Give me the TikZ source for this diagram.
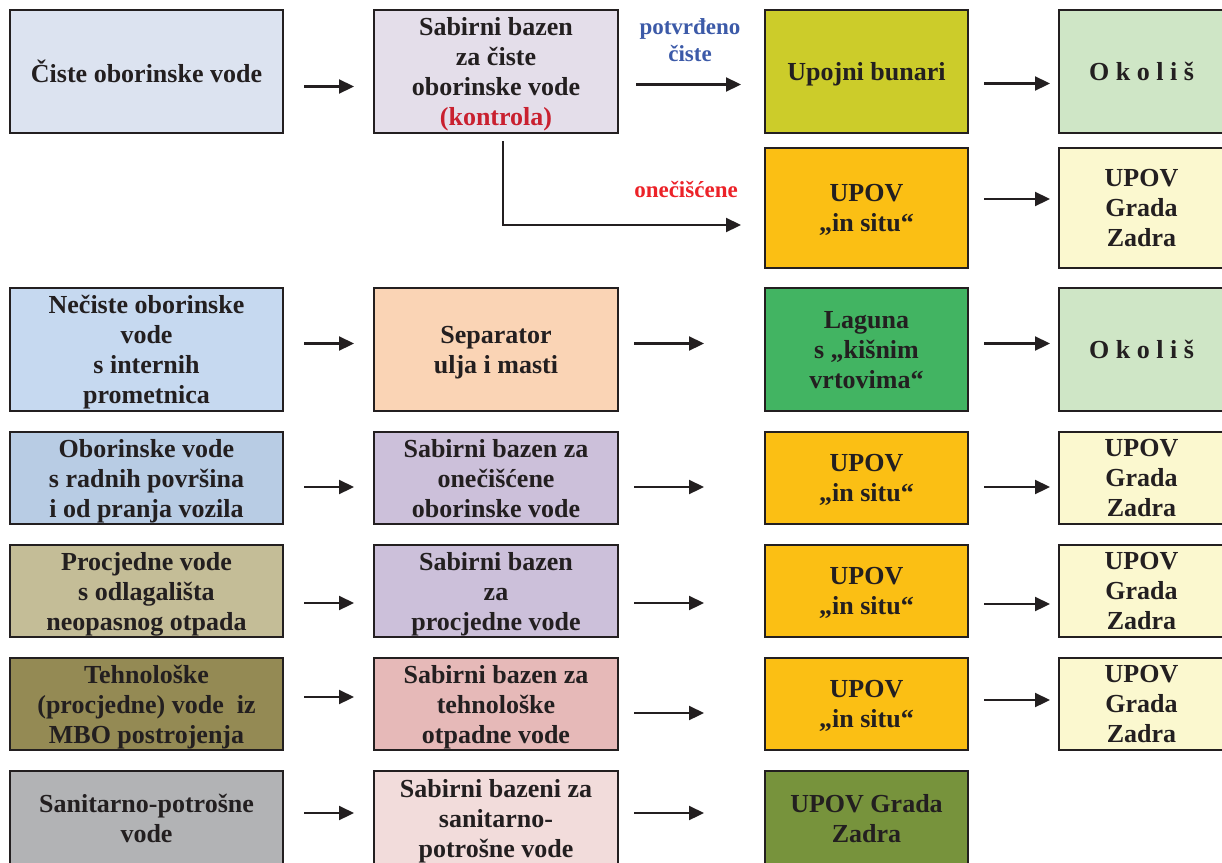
\documentclass[tikz,border=0pt]{standalone}
\usepackage{fontspec}
\setmainfont{Liberation Serif}
\usetikzlibrary{arrows.meta}
\definecolor{boxline}{HTML}{231F20}
\definecolor{cistebg}{HTML}{DCE3F0}
\definecolor{bazencistbg}{HTML}{E4DEEA}
\definecolor{bunaribg}{HTML}{CCCC2A}
\definecolor{okolisbg}{HTML}{CFE6C6}
\definecolor{upovbg}{HTML}{FBBF14}
\definecolor{zadrabg}{HTML}{FBF8CF}
\definecolor{necistbg}{HTML}{C6D9F0}
\definecolor{separatorbg}{HTML}{FAD4B5}
\definecolor{lagunabg}{HTML}{42B462}
\definecolor{radnebg}{HTML}{B8CCE4}
\definecolor{bazenlilabg}{HTML}{CCC0DA}
\definecolor{procjbg}{HTML}{C4BD97}
\definecolor{tehnobg}{HTML}{948A54}
\definecolor{bazentehnobg}{HTML}{E6B9B8}
\definecolor{sanitbg}{HTML}{B2B3B5}
\definecolor{bazensanbg}{HTML}{F2DCDB}
\definecolor{upovzadrabg}{HTML}{77933C}
\definecolor{lblblue}{HTML}{3C5AA8}
\definecolor{lblred}{HTML}{EC2228}
\definecolor{kontrolared}{HTML}{C9202F}

\begin{document}
\begin{tikzpicture}[x=1pt,y=-1pt,line width=0.4pt,
    box/.style={draw=boxline,line width=2pt,inner sep=0pt,align=center,text=boxline,
      text depth=0pt,font=\bfseries\fontsize{26}{30}\selectfont},
    colA/.style={box,minimum width=273pt},
    colB/.style={box,minimum width=244pt},
    colC/.style={box,minimum width=203pt},
    colD/.style={box,minimum width=165pt},
    tall/.style={minimum height=123pt},
    low/.style={minimum height=92pt},
    lbl/.style={inner sep=0pt,align=center,font=\bfseries\fontsize{23}{27}\selectfont},
    arr/.style={-{Triangle[length=15pt,width=14pt]},line width=2.2pt,draw=boxline},
    gapAB/.style={shorten <=20pt,shorten >=19pt},
    gapBC/.style={shorten <=15pt,shorten >=60pt},
    gapCD/.style={shorten <=15pt,shorten >=8pt}]
  \useasboundingbox (0,0) rectangle (1222,862);
  % row 1
  \node[colA,tall,fill=cistebg] (ciste) at (146.5,71.5) {Čiste oborinske vode};
  \node[colB,tall,fill=bazencistbg] (bazencist) at (496,71.5)
       {Sabirni bazen\\za čiste\\oborinske vode\\\textcolor{kontrolared}{(kontrola)}};
  \node[colC,tall,fill=bunaribg] (bunari) at (866.5,71.5) {Upojni bunari};
  \node[colD,tall,fill=okolisbg] (okolisA) at (1141.5,71.5) {O k o l i š};
  % row 2
  \node[colC,minimum height=120pt,fill=upovbg] (upovA) at (866.5,208) {UPOV\\„in situ“};
  \node[colD,minimum height=120pt,fill=zadrabg] (zadraA) at (1141.5,208) {UPOV\\Grada\\Zadra};
  \node[lbl,text=lblblue] (potvrdeno) at (690,40) {potvrđeno\\čiste};
  \node[lbl,text=lblred] (oneciscene) at (686,190) {onečišćene};
  % row 3
  \node[colA,tall,fill=necistbg] (necist) at (146.5,349.5)
       {Nečiste oborinske\\vode\\s internih\\prometnica};
  \node[colB,tall,fill=separatorbg] (separator) at (496,349.5) {Separator\\ulja i masti};
  \node[colC,tall,fill=lagunabg] (laguna) at (866.5,349.5) {Laguna\\s „kišnim\\vrtovima“};
  \node[colD,tall,fill=okolisbg] (okolisB) at (1141.5,349.5) {O k o l i š};
  % row 4
  \node[colA,low,fill=radnebg] (radne) at (146.5,478)
       {Oborinske vode\\s radnih površina\\i od pranja vozila};
  \node[colB,low,fill=bazenlilabg] (bazenonec) at (496,478)
       {Sabirni bazen za\\onečišćene\\oborinske vode};
  \node[colC,low,fill=upovbg] (upovB) at (866.5,478) {UPOV\\„in situ“};
  \node[colD,low,fill=zadrabg] (zadraB) at (1141.5,478) {UPOV\\Grada\\Zadra};
  % row 5
  \node[colA,low,fill=procjbg] (procjedne) at (146.5,591)
       {Procjedne vode\\s odlagališta\\neopasnog otpada};
  \node[colB,low,fill=bazenlilabg] (bazenproc) at (496,591)
       {Sabirni bazen\\za\\procjedne vode};
  \node[colC,low,fill=upovbg] (upovC) at (866.5,591) {UPOV\\„in situ“};
  \node[colD,low,fill=zadrabg] (zadraC) at (1141.5,591) {UPOV\\Grada\\Zadra};
  % row 6
  \node[colA,low,fill=tehnobg] (tehno) at (146.5,704)
       {Tehnološke\\(procjedne) vode\ \ iz\\MBO postrojenja};
  \node[colB,low,fill=bazentehnobg] (bazentehno) at (496,704)
       {Sabirni bazen za\\tehnološke\\otpadne vode};
  \node[colC,low,fill=upovbg] (upovD) at (866.5,704) {UPOV\\„in situ“};
  \node[colD,low,fill=zadrabg] (zadraD) at (1141.5,704) {UPOV\\Grada\\Zadra};
  % row 7
  \node[colA,minimum height=94pt,fill=sanitbg] (sanitarne) at (146.5,818)
       {Sanitarno-potrošne\\vode};
  \node[colB,minimum height=94pt,fill=bazensanbg] (bazensan) at (496,818)
       {Sabirni bazeni za\\sanitarno-\\potrošne vode};
  \node[colC,minimum height=94pt,fill=upovzadrabg] (upovzadra) at (866.5,818)
       {UPOV Grada\\Zadra};
  % arrows
  \draw[arr,gapAB] ([yshift=-15pt]ciste.east) -- ([yshift=-15pt]bazencist.west);
  \draw[arr,shorten <=17pt,shorten >=23pt] ([yshift=-13pt]bazencist.east) -- ([yshift=-13pt]bunari.west);
  \draw[arr,gapCD] ([yshift=-12pt]bunari.east) -- ([yshift=-12pt]okolisA.west);
  \draw[arr] ([xshift=7pt,yshift=-7pt]bazencist.south) |- ([xshift=-23pt,yshift=-17pt]upovA.west);
  \draw[arr,gapCD] ([yshift=9pt]upovA.east) -- ([yshift=9pt]zadraA.west);
  \draw[arr,gapAB] ([yshift=6pt]necist.east) -- ([yshift=6pt]separator.west);
  \draw[arr,gapBC] ([yshift=6pt]separator.east) -- ([yshift=6pt]laguna.west);
  \draw[arr,gapCD] ([yshift=6pt]laguna.east) -- ([yshift=6pt]okolisB.west);
  \draw[arr,gapAB] ([yshift=-9pt]radne.east) -- ([yshift=-9pt]bazenonec.west);
  \draw[arr,gapBC] ([yshift=-9pt]bazenonec.east) -- ([yshift=-9pt]upovB.west);
  \draw[arr,gapCD] ([yshift=-9pt]upovB.east) -- ([yshift=-9pt]zadraB.west);
  \draw[arr,gapAB] ([yshift=-12pt]procjedne.east) -- ([yshift=-12pt]bazenproc.west);
  \draw[arr,gapBC] ([yshift=-12pt]bazenproc.east) -- ([yshift=-12pt]upovC.west);
  \draw[arr,gapCD] ([yshift=-13pt]upovC.east) -- ([yshift=-13pt]zadraC.west);
  \draw[arr,gapAB] ([yshift=7pt]tehno.east) -- ([yshift=7pt]bazentehno.west);
  \draw[arr,gapBC] ([yshift=-9pt]bazentehno.east) -- ([yshift=-9pt]upovD.west);
  \draw[arr,gapCD] ([yshift=4pt]upovD.east) -- ([yshift=4pt]zadraD.west);
  \draw[arr,gapAB] ([yshift=5pt]sanitarne.east) -- ([yshift=5pt]bazensan.west);
  \draw[arr,gapBC] ([yshift=5pt]bazensan.east) -- ([yshift=5pt]upovzadra.west);
\end{tikzpicture}
\end{document}
